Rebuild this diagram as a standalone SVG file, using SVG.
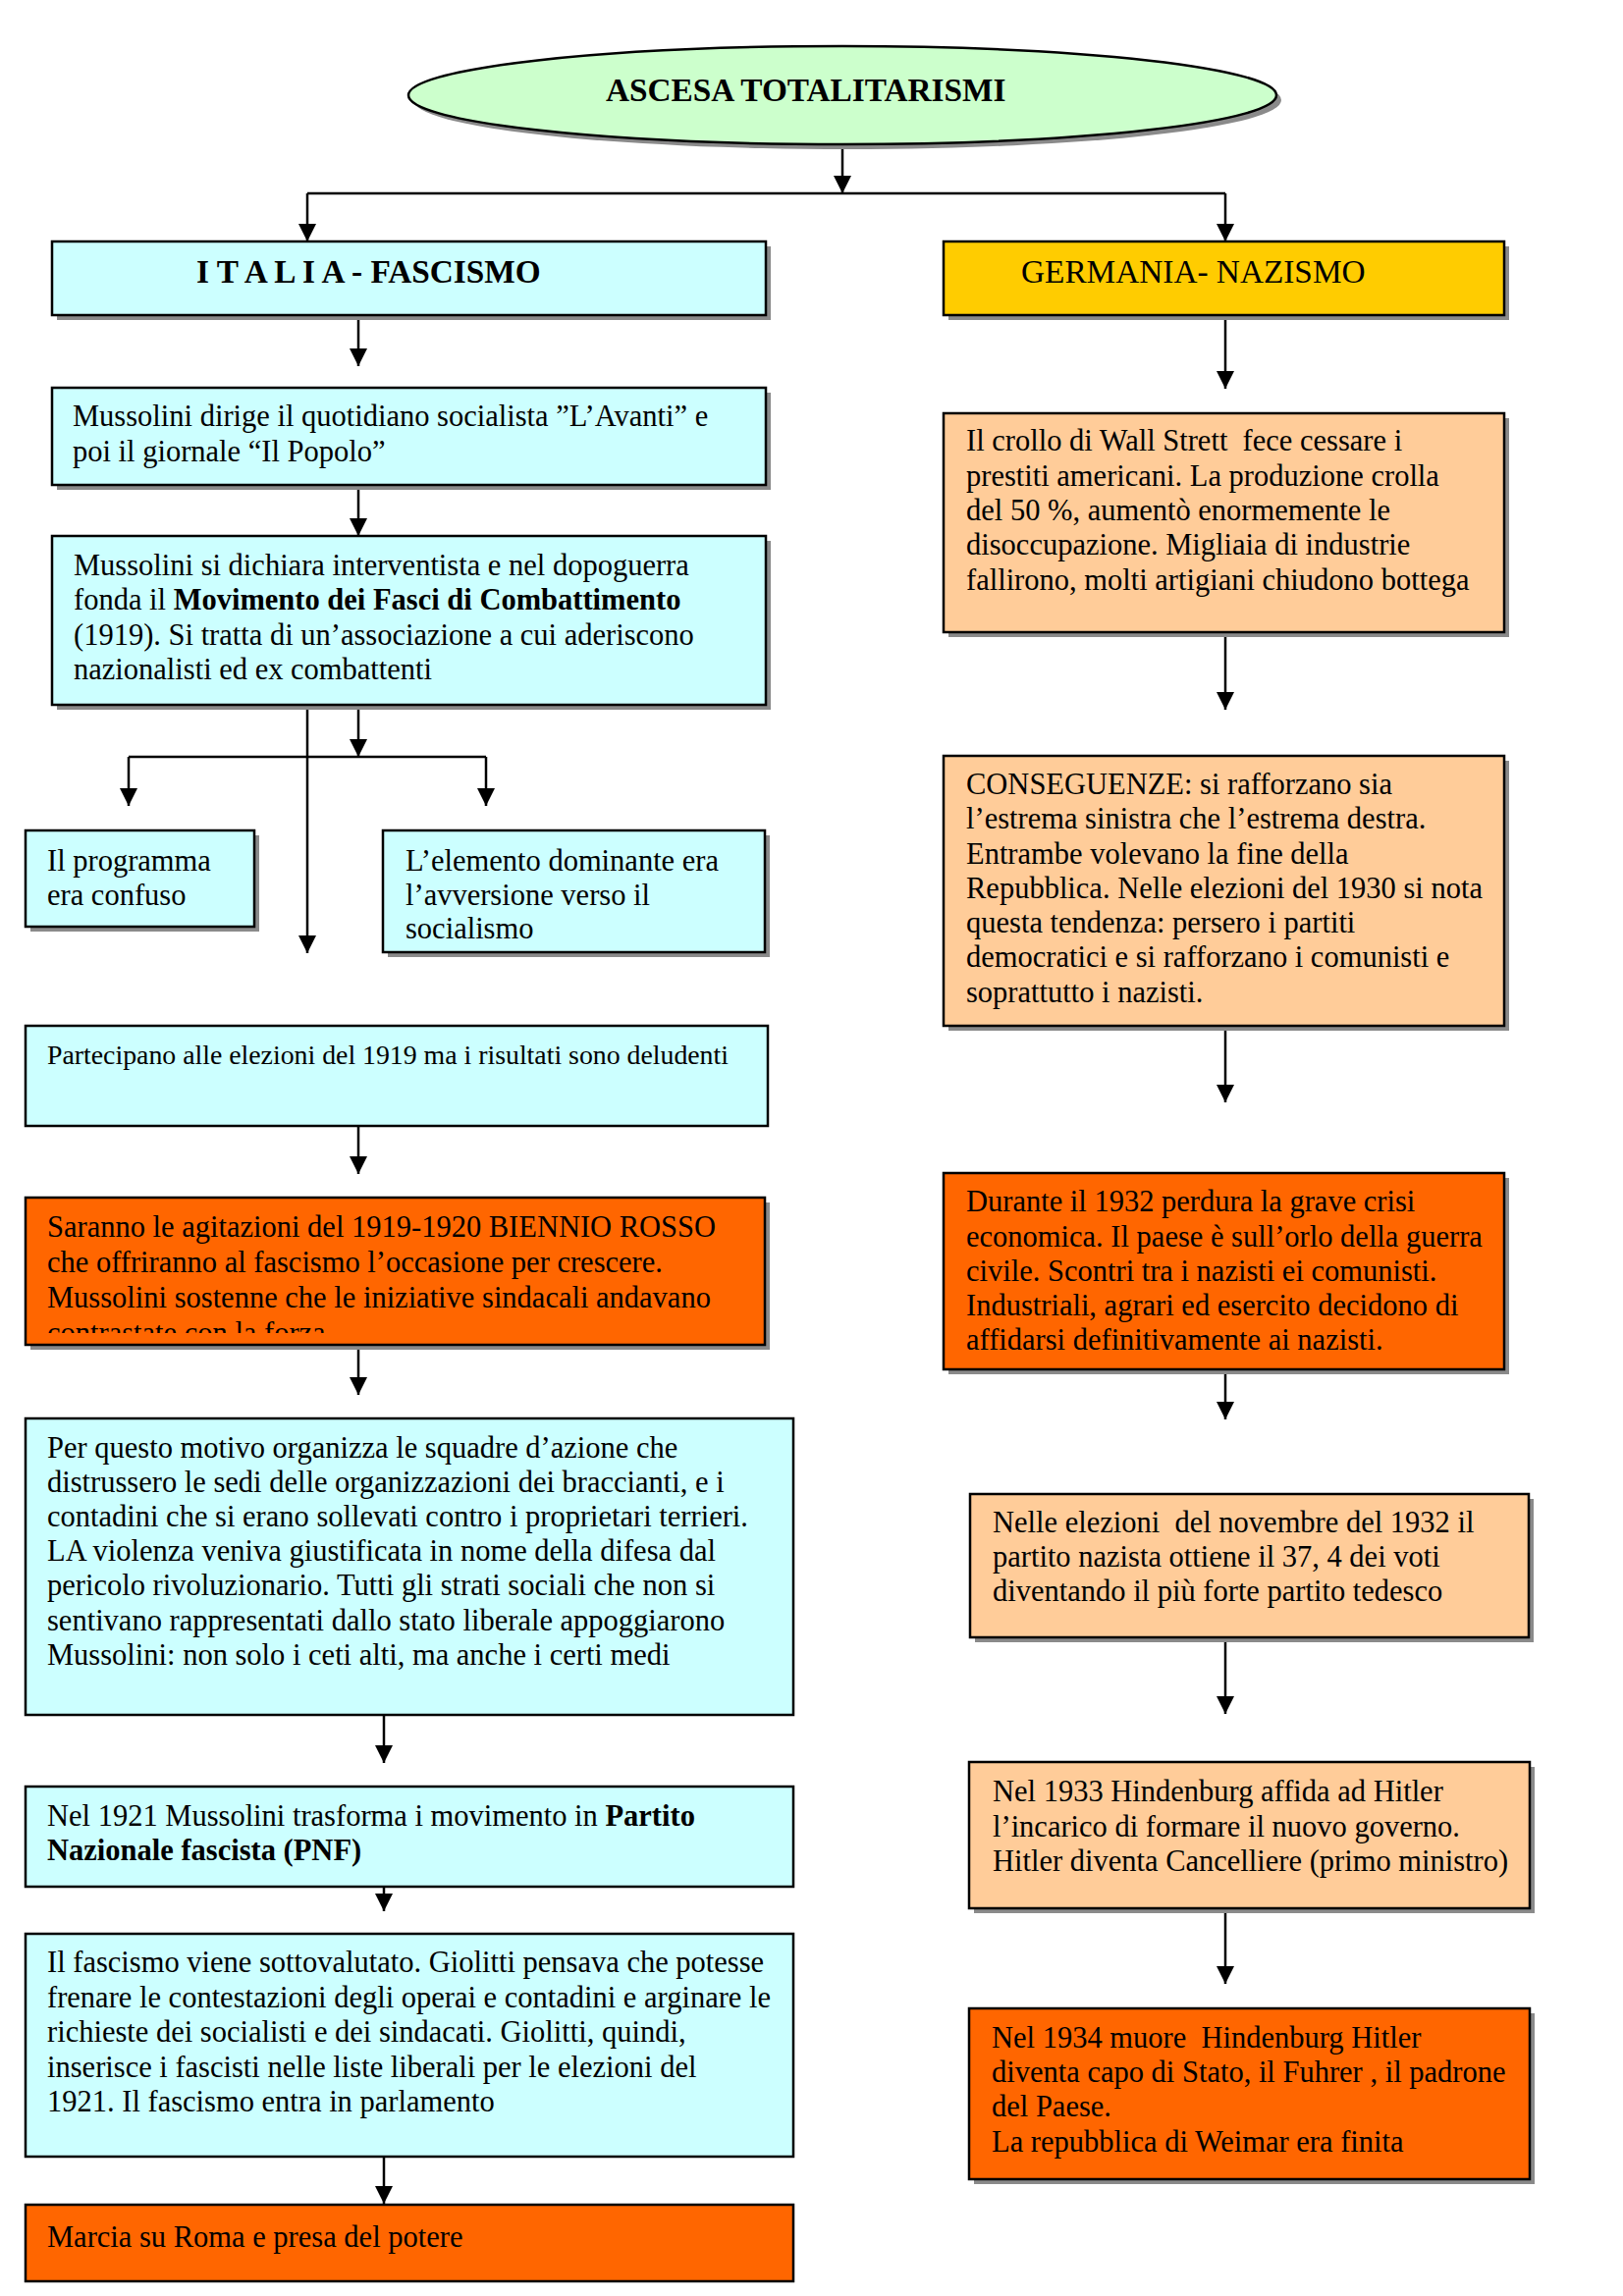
<svg xmlns="http://www.w3.org/2000/svg" width="1653" height="2339" viewBox="0 0 1653 2339">
<style>
.box{stroke:#000;stroke-width:2.5}
.cyan{fill:#ccffff}.peach{fill:#ffcc99}.orange{fill:#ff6600}.yellow{fill:#ffcc00}.green{fill:#ccffcc}
.sh{fill:#8a8a8a}
text{font-family:"Liberation Serif","Times New Roman",serif;font-size:30.5px;fill:#000}
.b{font-weight:bold}
.sm{font-size:27.8px}
.t{font-size:33.3px}
.conn{stroke:#000;stroke-width:2.5;fill:none}
.arr{marker-end:url(#ah)}
</style>
<defs>
<marker id="ah" viewBox="0 0 18 18" refX="18" refY="9" markerWidth="18" markerHeight="18" markerUnits="userSpaceOnUse" orient="auto">
<path d="M0,0 L18,9 L0,18 z" fill="#000"/>
</marker>
<clipPath id="clipB"><rect x="26" y="1220" width="753" height="138"/></clipPath>
</defs>
<rect width="1653" height="2339" fill="#fff"/>

<g id="connectors">
<path class="conn arr" d="M858,147 L858,197"/>
<path class="conn" d="M313,197 L1248,197"/>
<path class="conn arr" d="M313,197 L313,246"/>
<path class="conn arr" d="M1248,197 L1248,246"/>
<path class="conn arr" d="M365,321 L365,373"/>
<path class="conn arr" d="M365,495 L365,546"/>
<path class="conn arr" d="M365,718 L365,771"/>
<path class="conn" d="M131,771 L495,771"/>
<path class="conn arr" d="M131,771 L131,821"/>
<path class="conn arr" d="M495,771 L495,821"/>
<path class="conn arr" d="M313,718 L313,971"/>
<path class="conn arr" d="M365,1147 L365,1196"/>
<path class="conn arr" d="M365,1370 L365,1421"/>
<path class="conn arr" d="M391,1747 L391,1796"/>
<path class="conn arr" d="M391,1922 L391,1947"/>
<path class="conn arr" d="M391,2197 L391,2245"/>
<path class="conn arr" d="M1248,321 L1248,396"/>
<path class="conn arr" d="M1248,644 L1248,723"/>
<path class="conn arr" d="M1248,1045 L1248,1123"/>
<path class="conn arr" d="M1248,1395 L1248,1446"/>
<path class="conn arr" d="M1248,1668 L1248,1746"/>
<path class="conn arr" d="M1248,1944 L1248,2021"/>
</g>

<g id="title">
<ellipse class="sh" cx="863" cy="102" rx="442" ry="50"/>
<ellipse class="box green" cx="858" cy="97" rx="442" ry="50"/>
<text class="t b" x="617" y="103">ASCESA TOTALITARISMI</text>
</g>

<g id="italia">
<rect class="sh" x="58" y="251" width="727" height="75"/>
<rect class="box cyan" x="53" y="246" width="727" height="75"/>
<text class="t b" x="200" y="288" xml:space="preserve">I T A L I A - FASCISMO</text>
</g>

<g id="germania">
<rect class="sh" x="966" y="251" width="571" height="75"/>
<rect class="box yellow" x="961" y="246" width="571" height="75"/>
<text class="t" x="1040" y="288">GERMANIA- NAZISMO</text>
</g>

<g id="l1">
<rect class="sh" x="58" y="400" width="727" height="99"/>
<rect class="box cyan" x="53" y="395" width="727" height="99"/>
<text><tspan x="74" y="434">Mussolini dirige il quotidiano socialista ”L’Avanti” e</tspan><tspan x="74" y="470">poi il giornale “Il Popolo”</tspan></text>
</g>

<g id="l2">
<rect class="sh" x="58" y="551" width="727" height="172"/>
<rect class="box cyan" x="53" y="546" width="727" height="172"/>
<text><tspan x="75" y="586">Mussolini si dichiara interventista e nel dopoguerra</tspan><tspan x="75" y="621">fonda il <tspan class="b">Movimento dei Fasci di Combattimento</tspan></tspan><tspan x="75" y="657">(1919). Si tratta di un’associazione a cui aderiscono</tspan><tspan x="75" y="692">nazionalisti ed ex combattenti</tspan></text>
</g>

<g id="l3a">
<rect class="sh" x="31" y="851" width="233" height="98"/>
<rect class="box cyan" x="26" y="846" width="233" height="98"/>
<text><tspan x="48" y="887">Il programma</tspan><tspan x="48" y="922">era confuso</tspan></text>
</g>

<g id="l3b">
<rect class="sh" x="395" y="851" width="389" height="124"/>
<rect class="box cyan" x="390" y="846" width="389" height="124"/>
<text><tspan x="413" y="887">L’elemento dominante era</tspan><tspan x="413" y="922">l’avversione verso il</tspan><tspan x="413" y="956">socialismo</tspan></text>
</g>

<g id="l4">
<rect class="box cyan" x="26" y="1045" width="756" height="102"/>
<text class="sm" x="48" y="1084">Partecipano alle elezioni del 1919 ma i risultati sono deludenti</text>
</g>

<g id="l5">
<rect class="sh" x="31" y="1225" width="753" height="150"/>
<rect class="box orange" x="26" y="1220" width="753" height="150"/>
<text clip-path="url(#clipB)"><tspan x="48" y="1260">Saranno le agitazioni del 1919-1920 BIENNIO ROSSO</tspan><tspan x="48" y="1296">che offriranno al fascismo l’occasione per crescere.</tspan><tspan x="48" y="1332">Mussolini sostenne che le iniziative sindacali andavano</tspan><tspan x="48" y="1368">contrastate con la forza</tspan></text>
</g>

<g id="l6">
<rect class="box cyan" x="26" y="1445" width="782" height="302"/>
<text><tspan x="48" y="1485">Per questo motivo organizza le squadre d’azione che</tspan><tspan x="48" y="1520">distrussero le sedi delle organizzazioni dei braccianti, e i</tspan><tspan x="48" y="1555">contadini che si erano sollevati contro i proprietari terrieri.</tspan><tspan x="48" y="1590">LA violenza veniva giustificata in nome della difesa dal</tspan><tspan x="48" y="1625">pericolo rivoluzionario. Tutti gli strati sociali che non si</tspan><tspan x="48" y="1661">sentivano rappresentati dallo stato liberale appoggiarono</tspan><tspan x="48" y="1696">Mussolini: non solo i ceti alti, ma anche i certi medi</tspan></text>
</g>

<g id="l7">
<rect class="box cyan" x="26" y="1820" width="782" height="102"/>
<text><tspan x="48" y="1860">Nel 1921 Mussolini trasforma i movimento in <tspan class="b">Partito</tspan></tspan><tspan x="48" y="1895" class="b">Nazionale fascista (PNF)</tspan></text>
</g>

<g id="l8">
<rect class="box cyan" x="26" y="1970" width="782" height="227"/>
<text><tspan x="48" y="2009">Il fascismo viene sottovalutato. Giolitti pensava che potesse</tspan><tspan x="48" y="2045">frenare le contestazioni degli operai e contadini e arginare le</tspan><tspan x="48" y="2080">richieste dei socialisti e dei sindacati. Giolitti, quindi,</tspan><tspan x="48" y="2116">inserisce i fascisti nelle liste liberali per le elezioni del</tspan><tspan x="48" y="2151">1921. Il fascismo entra in parlamento</tspan></text>
</g>

<g id="l9">
<rect class="box orange" x="26" y="2246" width="782" height="78"/>
<text x="48" y="2289">Marcia su Roma e presa del potere</text>
</g>

<g id="r1">
<rect class="sh" x="966" y="426" width="571" height="223"/>
<rect class="box peach" x="961" y="421" width="571" height="223"/>
<text xml:space="preserve"><tspan x="984" y="459">Il crollo di Wall Strett  fece cessare i</tspan><tspan x="984" y="495">prestiti americani. La produzione crolla</tspan><tspan x="984" y="530">del 50 %, aumentò enormemente le</tspan><tspan x="984" y="565">disoccupazione. Migliaia di industrie</tspan><tspan x="984" y="601">fallirono, molti artigiani chiudono bottega</tspan></text>
</g>

<g id="r2">
<rect class="sh" x="966" y="775" width="571" height="275"/>
<rect class="box peach" x="961" y="770" width="571" height="275"/>
<text><tspan x="984" y="809">CONSEGUENZE: si rafforzano sia</tspan><tspan x="984" y="844">l’estrema sinistra che l’estrema destra.</tspan><tspan x="984" y="880">Entrambe volevano la fine della</tspan><tspan x="984" y="915">Repubblica. Nelle elezioni del 1930 si nota</tspan><tspan x="984" y="950">questa tendenza: persero i partiti</tspan><tspan x="984" y="985">democratici e si rafforzano i comunisti e</tspan><tspan x="984" y="1021">soprattutto i nazisti.</tspan></text>
</g>

<g id="r3">
<rect class="sh" x="966" y="1200" width="571" height="200"/>
<rect class="box orange" x="961" y="1195" width="571" height="200"/>
<text><tspan x="984" y="1234">Durante il 1932 perdura la grave crisi</tspan><tspan x="984" y="1270">economica. Il paese è sull’orlo della guerra</tspan><tspan x="984" y="1305">civile. Scontri tra i nazisti ei comunisti.</tspan><tspan x="984" y="1340">Industriali, agrari ed esercito decidono di</tspan><tspan x="984" y="1375">affidarsi definitivamente ai nazisti.</tspan></text>
</g>

<g id="r4">
<rect class="sh" x="993" y="1527" width="569" height="146"/>
<rect class="box peach" x="988" y="1522" width="569" height="146"/>
<text xml:space="preserve"><tspan x="1011" y="1561">Nelle elezioni  del novembre del 1932 il</tspan><tspan x="1011" y="1596">partito nazista ottiene il 37, 4 dei voti</tspan><tspan x="1011" y="1631">diventando il più forte partito tedesco</tspan></text>
</g>

<g id="r5">
<rect class="sh" x="992" y="1800" width="571" height="149"/>
<rect class="box peach" x="987" y="1795" width="571" height="149"/>
<text><tspan x="1011" y="1835">Nel 1933 Hindenburg affida ad Hitler</tspan><tspan x="1011" y="1871">l’incarico di formare il nuovo governo.</tspan><tspan x="1011" y="1906">Hitler diventa Cancelliere (primo ministro)</tspan></text>
</g>

<g id="r6">
<rect class="sh" x="992" y="2051" width="571" height="174"/>
<rect class="box orange" x="987" y="2046" width="571" height="174"/>
<text xml:space="preserve"><tspan x="1010" y="2086">Nel 1934 muore  Hindenburg Hitler</tspan><tspan x="1010" y="2121">diventa capo di Stato, il Fuhrer , il padrone</tspan><tspan x="1010" y="2156">del Paese.</tspan><tspan x="1010" y="2192">La repubblica di Weimar era finita</tspan></text>
</g>
</svg>
